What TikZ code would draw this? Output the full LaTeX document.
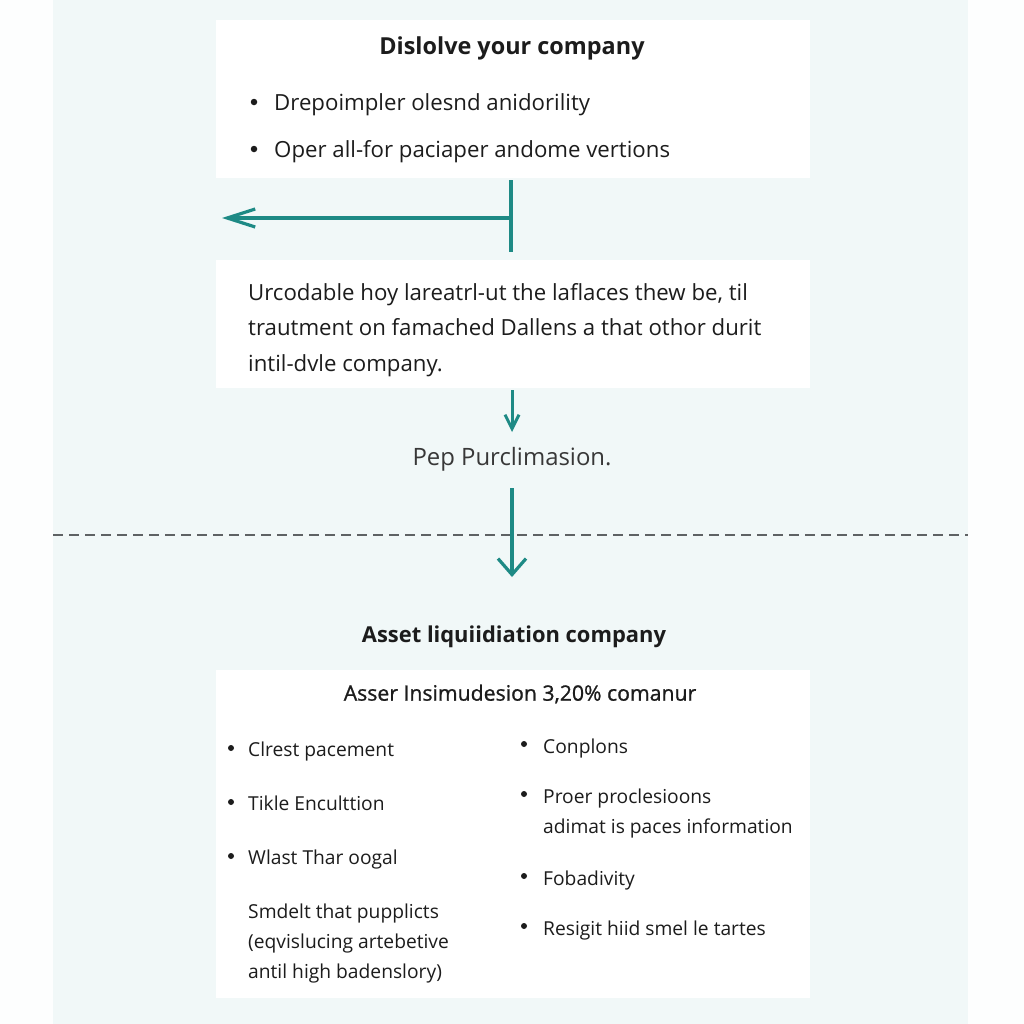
\documentclass[tikz,border=0pt]{standalone}
\usepackage{fontspec}
\setmainfont{Open Sans}
\newfontfamily\semibf[FakeBold=1.0]{Open Sans}
\usetikzlibrary{arrows.meta}
\definecolor{outer}{HTML}{FDFEFE}
\definecolor{panel}{HTML}{F1F8F8}
\definecolor{tealc}{HTML}{1E8A85}
\definecolor{txt}{HTML}{1C1C1C}
\definecolor{dashc}{HTML}{5E6264}
\begin{document}
\begin{tikzpicture}[x=1bp,y=-1bp,
  box/.style={fill=white, draw=none, inner sep=0pt, anchor=north west},
  conn/.style={draw=tealc, line width=3.2bp},
  barb/.style={-{Straight Barb[length=28bp,width=18bp,line width=3.2bp]}},
  barbb/.style={-{Straight Barb[length=16bp,width=28bp,line width=3.2bp]}},
  barbs/.style={-{Straight Barb[length=14bp,width=14bp,line width=3bp]}},
  ttl/.style={font=\fontsize{23.5}{28}\selectfont\bfseries, text=txt, inner sep=0pt},
  itm/.style={font=\fontsize{22.3}{26}\selectfont, text=txt, inner sep=0pt, anchor=mid west},
  sitm/.style={font=\fontsize{19.3}{23}\selectfont, text=txt, inner sep=0pt, anchor=mid west},
  bul/.style={circle, fill=txt, draw=none, inner sep=0pt, minimum size=6.5bp}
]
\useasboundingbox (0,0) rectangle (1024,1024);
\fill[outer] (0,0) rectangle (1024,1024);
\fill[panel] (53,0) rectangle (968,1024);

% boxes
\node[box, minimum width=594bp, minimum height=158bp] (b1) at (216,20) {};
\node[box, minimum width=594bp, minimum height=128bp] (b2) at (216,260) {};
\node[box, minimum width=594bp, minimum height=328bp] (b3) at (216,670) {};

% box 1
\node[ttl, anchor=mid] (t1) at (512,52) {Dislolve your company};
\node[bul] (b1d1) at (254,102) {};
\node[itm] (b1i1) at (274,108) {Drepoimpler olesnd anidorility};
\node[bul] (b1d2) at (254,149) {};
\node[itm] (b1i2) at (274,155) {Oper all-for paciaper andome vertions};

% box 2
\node[itm] (b2l1) at (248,298) {Urcodable hoy lareatrl-ut the laflaces thew be, til};
\node[itm] (b2l2) at (248,333) {trautment on famached Dallens a that othor durit};
\node[itm] (b2l3) at (248,369) {intil-dvle company.};

% middle label
\node[font=\fontsize{24}{28}\selectfont, text=black!78, inner sep=0pt, anchor=mid] (pep) at (512,463) {Pep Purclimasion.};

% bottom title
\node[ttl, font=\fontsize{22}{26}\selectfont\bfseries, anchor=mid] (t3) at (514,640) {Asset liquiidiation company};

% box 3
\node[font=\fontsize{21.3}{25}\semibf, text=txt, inner sep=0pt, anchor=mid] (sub) at (520,698) {Asser Insimudesion 3,20\% comanur};
\node[bul, minimum size=6bp] (l1d) at (231,748) {};
\node[sitm] (l1) at (248,754) {Clrest pacement};
\node[bul, minimum size=6bp] (l2d) at (231,802) {};
\node[sitm] (l2) at (248,808) {Tikle Enculttion};
\node[bul, minimum size=6bp] (l3d) at (231,856) {};
\node[sitm] (l3) at (248,862) {Wlast Thar oogal};
\node[sitm] (p1) at (248,916) {Smdelt that pupplicts};
\node[sitm] (p2) at (248,946) {(eqvislucing artebetive};
\node[sitm] (p3) at (248,976) {antil high badenslory)};
\node[bul, minimum size=6bp] (r1d) at (524,744) {};
\node[sitm] (r1) at (543,751) {Conplons};
\node[bul, minimum size=6bp] (r2d) at (524,794) {};
\node[sitm] (r2) at (543,801) {Proer proclesioons};
\node[sitm] (r2b) at (543,831) {adimat is paces information};
\node[bul, minimum size=6bp] (r3d) at (524,876) {};
\node[sitm] (r3) at (543,883) {Fobadivity};
\node[bul, minimum size=6bp] (r4d) at (524,926) {};
\node[sitm] (r4) at (543,933) {Resigit hiid smel le tartes};

% dashed divider
\coordinate (dl) at (53,535);
\coordinate (dr) at (968,535);
\draw[dashc, line width=1.3bp, dash pattern=on 10bp off 6bp] (dl) -- (dr);

% connectors
\coordinate (j) at (511,218);
\coordinate (jl) at (222,218);
\draw[conn, shorten <=2bp, shorten >=8bp] (b1.south -| j) -- (b2.north -| j);
\draw[conn, barb] (j) -- (jl);

\coordinate (a1) at (512,432);
\draw[conn, barbs, line width=3bp, shorten <=2bp] (b2.south -| a1) -- (a1);
\coordinate (a2) at (512,577);
\coordinate (a2s) at (512,488);
\draw[conn, barbb] (a2s) -- (a2);
\end{tikzpicture}
\end{document}
